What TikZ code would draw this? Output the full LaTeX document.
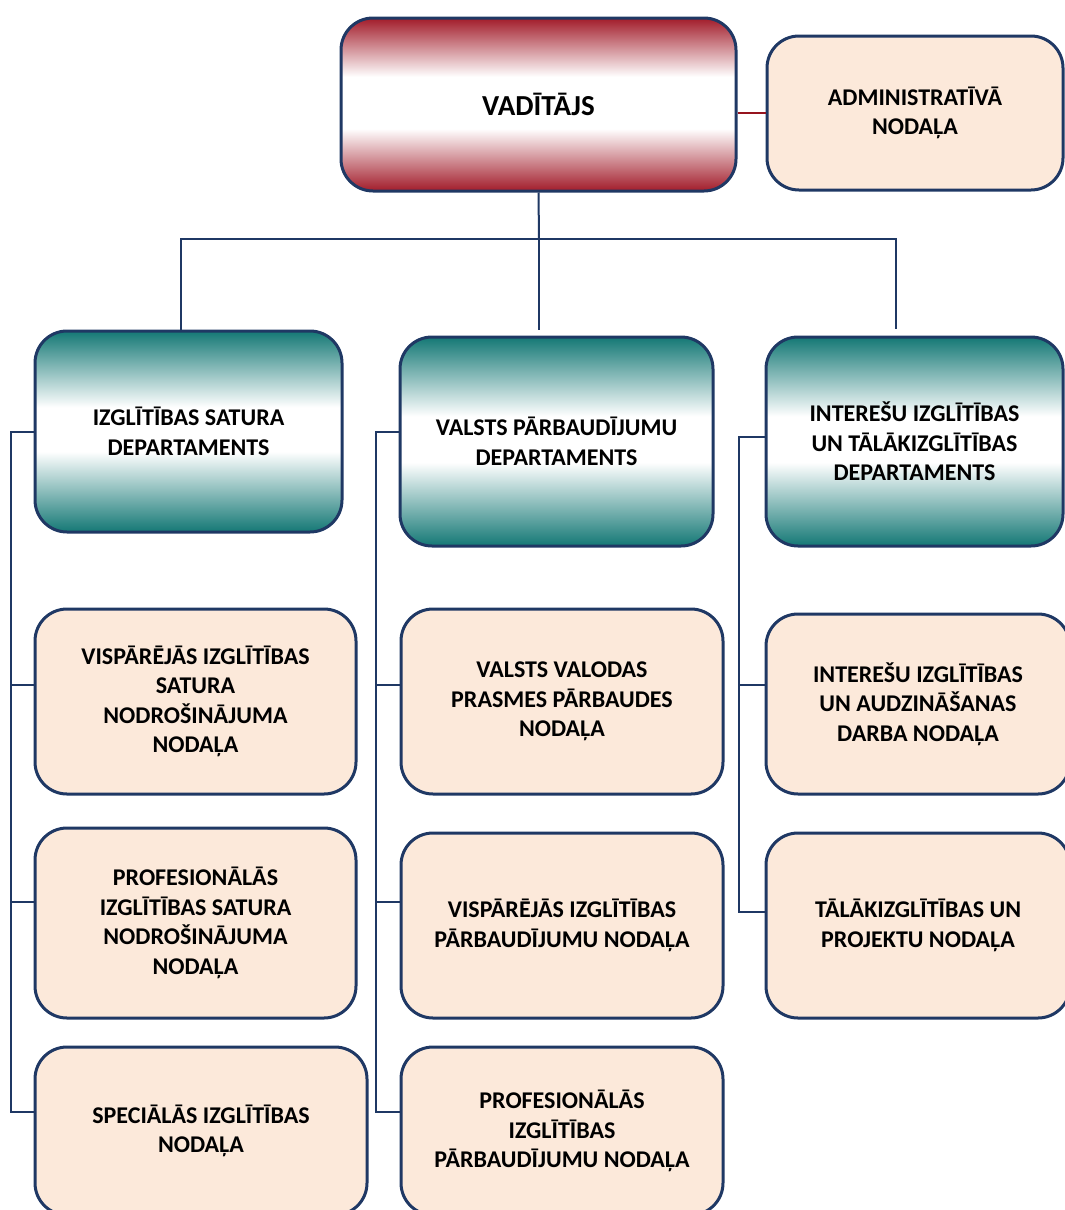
\documentclass[tikz,border=0pt]{standalone}
\usepackage{fontspec}
\setmainfont{Carlito}
\usepackage{tikz}
\usetikzlibrary{
	calc,
	positioning,
}
\definecolor{navy}{RGB}{31,56,100}
\definecolor{peach}{RGB}{252,233,218}
\definecolor{vred}{RGB}{162,28,42}
\definecolor{lred}{RGB}{150,20,30}
\definecolor{vteal}{RGB}{20,120,117}
\pgfdeclareverticalshading{redband}{100bp}{color(0bp)=(vred); color(25bp)=(vred); color(43bp)=(white); color(58bp)=(white); color(75bp)=(vred); color(100bp)=(vred)}
\pgfdeclareverticalshading{tealband}{100bp}{color(0bp)=(vteal); color(25bp)=(vteal); color(45bp)=(white); color(56bp)=(white); color(75bp)=(vteal); color(100bp)=(vteal)}
\tikzset{box/.style={draw=navy,line width=3pt,rounded corners=32pt,align=center,inner sep=0pt,font=\bfseries\fontsize{24}{29.5}\selectfont,}}
\tikzset{head/.style={box,shading=redband,font=\bfseries\fontsize{29}{35}\selectfont,}}
\tikzset{dept/.style={box,shading=tealband,}}
\tikzset{unit/.style={box,fill=peach,}}
\tikzset{wire/.style={navy,line width=2pt,}}
\tikzset{redwire/.style={lred,line width=2pt,}}

\begin{document}
\begin{tikzpicture}[x=1pt,y=-1pt]
\useasboundingbox (0,0) rectangle (1065,1210);
\clip (0,0) rectangle (1065,1210);

\node[head,minimum width=395pt,minimum height=173pt] (vad) at (538.5,104.5) {VADĪTĀJS};
\node[unit,minimum width=296pt,minimum height=154pt] (adm) at (915,113) {ADMINISTRATĪVĀ\\NODAĻA};

\node[dept,minimum width=307pt,minimum height=201pt] (d1) at (188.5,431.5) {IZGLĪTĪBAS SATURA\\DEPARTAMENTS};
\node[dept,minimum width=313pt,minimum height=209pt] (d2) at (556.5,441.5) {VALSTS PĀRBAUDĪJUMU\\DEPARTAMENTS};
\node[dept,minimum width=297pt,minimum height=209pt] (d3) at (914.5,441.5) {INTEREŠU IZGLĪTĪBAS\\UN TĀLĀKIZGLĪTĪBAS\\DEPARTAMENTS};

\node[unit,minimum width=321pt,minimum height=185pt] (u11) at (195.5,701.5) {VISPĀRĒJĀS IZGLĪTĪBAS\\SATURA\\NODROŠINĀJUMA\\NODAĻA};
\node[unit,minimum width=321pt,minimum height=190pt] (u12) at (195.5,923) {PROFESIONĀLĀS\\IZGLĪTĪBAS SATURA\\NODROŠINĀJUMA\\NODAĻA};
\node[unit,minimum width=332pt,minimum height=168pt] (u13) at (201,1131) {SPECIĀLĀS IZGLĪTĪBAS\\NODAĻA};

\node[unit,minimum width=322pt,minimum height=185pt] (u21) at (562,701.5) {VALSTS VALODAS\\PRASMES PĀRBAUDES\\NODAĻA};
\node[unit,minimum width=322pt,minimum height=185pt] (u22) at (562,925.5) {VISPĀRĒJĀS IZGLĪTĪBAS\\PĀRBAUDĪJUMU NODAĻA};
\node[unit,minimum width=322pt,minimum height=168pt] (u23) at (562,1131) {PROFESIONĀLĀS\\IZGLĪTĪBAS\\PĀRBAUDĪJUMU NODAĻA};

\node[unit,minimum width=304pt,minimum height=180pt] (u31) at (918,704) {INTEREŠU IZGLĪTĪBAS\\UN AUDZINĀŠANAS\\DARBA NODAĻA};
\node[unit,minimum width=304pt,minimum height=185pt] (u32) at (918,925.5) {TĀLĀKIZGLĪTĪBAS UN\\PROJEKTU NODAĻA};

\coordinate (hub) at (539,239);
\draw[redwire] (vad.east |- adm.west) -- (adm.west);
\draw[wire] (vad.south) -- (hub);
\draw[wire] (hub) -- ([xshift=-17.5pt,yshift=6pt]d2.north);
\draw[wire] ([xshift=-7.5pt]d1.north) |- (hub) -| ([xshift=-18.5pt,yshift=7pt]d3.north);

\draw[wire] (d1.west) -- ++(-23pt,0) |- ([yshift=16.5pt]u11.west);
\draw[wire] (d1.west) -- ++(-23pt,0) |- ([yshift=21pt]u12.west);
\draw[wire] (d1.west) -- ++(-23pt,0) |- ([yshift=19pt]u13.west);

\draw[wire] ([yshift=9.5pt]d2.west) -- ++(-23pt,0) |- ([yshift=16.5pt]u21.west);
\draw[wire] ([yshift=9.5pt]d2.west) -- ++(-23pt,0) |- ([yshift=23.5pt]u22.west);
\draw[wire] ([yshift=9.5pt]d2.west) -- ++(-23pt,0) |- ([yshift=19pt]u23.west);

\draw[wire] ([yshift=4.5pt]d3.west) -- ++(-26pt,0) |- ([yshift=19pt]u31.west);
\draw[wire] ([yshift=4.5pt]d3.west) -- ++(-26pt,0) |- ([yshift=13.5pt]u32.west);

\end{tikzpicture}
\end{document}
